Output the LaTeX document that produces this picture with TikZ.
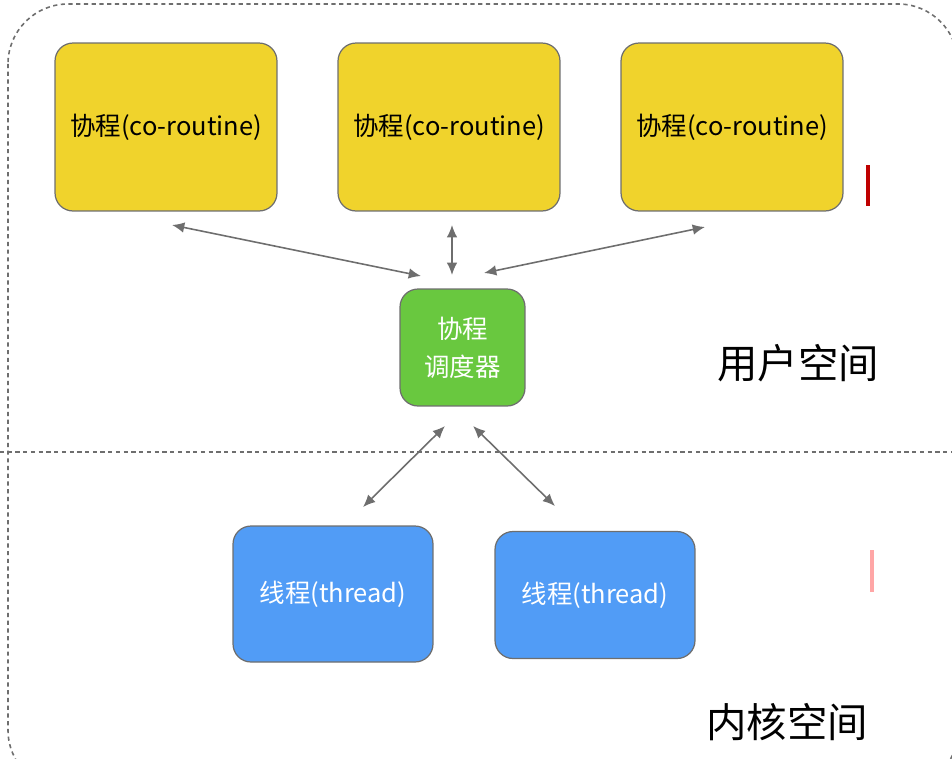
\documentclass[tikz,border=0pt]{standalone}
\usepackage{fontspec}
\setmainfont{Noto Sans CJK SC}
\usetikzlibrary{arrows.meta}

\definecolor{coyellow}{HTML}{F0D32C}
\definecolor{schedgreen}{HTML}{69C83F}
\definecolor{thblue}{HTML}{519CF6}
\definecolor{edgegray}{HTML}{6E6E6E}

\begin{document}
\begin{tikzpicture}[
  x=0.02cm, y=-0.02cm,
  every node/.style={font=\fontsize{14.5}{21.5}\selectfont},
  box/.style={draw=edgegray, line width=0.7pt, rounded corners=0.36cm, align=center, inner sep=2pt},
  coro/.style={box, fill=coyellow, text=black, minimum width=4.44cm, minimum height=3.36cm},
  sched/.style={box, fill=schedgreen, text=white, minimum width=2.5cm, minimum height=2.34cm},
  thrd/.style={box, fill=thblue, text=white, minimum width=4cm},
  space/.style={font=\fontsize{23}{26}\selectfont, text=black},
  link/.style={{Latex[length=7pt,width=6pt]}-{Latex[length=7pt,width=6pt]}, edgegray, line width=0.9pt},
  sep/.style={dash pattern=on 2.4pt off 2pt, edgegray, line width=0.9pt}
]
\useasboundingbox (0,0) rectangle (952,758);

% ===== Frame and user/kernel border =====
\draw[sep, rounded corners=1.2cm] (8,4) rectangle (958,790);
\draw[sep] (0,452) -- (952,452);

% ===== User space: co-routines and scheduler =====
\node[coro] (co1) at (166,127) {协程(co-routine)};
\node[coro] (co2) at (449,127) {协程(co-routine)};
\node[coro] (co3) at (732,127) {协程(co-routine)};
\node[sched] (sch) at (462.5,347.5) {协程\\调度器};

% ===== Kernel space: threads =====
\node[thrd, minimum height=2.72cm] (th1) at (333,594) {线程(thread)};
\node[thrd, minimum height=2.54cm] (th2) at (595,595) {线程(thread)};

\node[space] (user) at (798,363) {用户空间};
\node[space] (kern) at (787,722) {内核空间};

% ----- free arrow ends, kept off the boxes -----
\coordinate (co1s) at (172,225);
\coordinate (co2s) at (452,225);
\coordinate (co3s) at (705,227);
\coordinate (schL) at (421,276);
\coordinate (schM) at (452,275);
\coordinate (schR) at (484,273);
\coordinate (schBL) at (445,426);
\coordinate (schBR) at (473,426);
\coordinate (th1n) at (363,507);
\coordinate (th2n) at (555,506);

% ===== Edges =====
\draw[link] (co1s) -- (schL);
\draw[link] (co2s) -- (schM);
\draw[link] (co3s) -- (schR);
\draw[link] (schBL) -- (th1n);
\draw[link] (schBR) -- (th2n);

% cursor marks at the right border
\fill[red!75!black] (866,165) rectangle (870,206);
\fill[red!35] (870,550) rectangle (874,592);
\end{tikzpicture}
\end{document}
